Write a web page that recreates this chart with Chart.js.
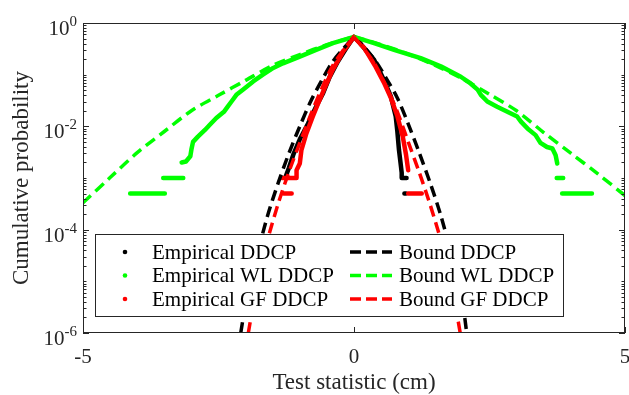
<!DOCTYPE html>
<html>
<head>
<meta charset="utf-8">
<script src="https://cdn.jsdelivr.net/npm/chart.js@4.4.1/dist/chart.umd.min.js"></script>
<style>
  html, body { margin: 0; padding: 0; background: #fff; }
  canvas { display: block; }
</style>
</head>
<body>
<canvas id="cdfChart" width="629" height="395"></canvas>
<script>
// Axis ticks
const xTicks = [-5, 0, 5];
const yTicks = [1e-6, 1e-4, 1e-2, 1];
const yTickExponents = ['-6', '-4', '-2', '0'];

// Series names and colours (DDCP, WL DDCP, GF DDCP)
const empiricalNames = ['Empirical DDCP', 'Empirical WL DDCP', 'Empirical GF DDCP'];
const boundNames = ['Bound DDCP', 'Bound WL DDCP', 'Bound GF DDCP'];
const seriesColors = ['#000000', '#00ff00', '#ff0000'];

// Bound DDCP
const boundDdcpLeftX = [-2.09, -2.0, -1.8, -1.6, -1.4, -1.2, -1.0, -0.8, -0.6, -0.4, -0.2, 0];
const boundDdcpLeftP = [1e-6, 3.55e-6, 2.82e-5, 1.78e-4, 7.94e-4, 3.02e-3, 1.0e-2, 3.02e-2, 7.59e-2, 0.174, 0.316, 0.54];
const boundDdcpRightX = [0, 0.2, 0.4, 0.6, 0.8, 1.0, 1.2, 1.4, 1.6, 1.8, 2.0, 2.08];
const boundDdcpRightP = [0.54, 0.331, 0.182, 8.32e-2, 3.55e-2, 1.12e-2, 3.16e-3, 8.32e-4, 1.91e-4, 3.16e-5, 3.98e-6, 1e-6];

// Bound WL DDCP
const boundWlLeftX = [-5, -4.5, -4, -3.5, -3, -2.5, -2, -1.5, -1, -0.5, 0];
const boundWlLeftP = [3.31e-4, 1.02e-3, 3.09e-3, 7.94e-3, 2.0e-2, 3.98e-2, 7.76e-2, 0.151, 0.245, 0.380, 0.54];
const boundWlRightX = [0, 0.5, 1, 1.5, 2, 2.5, 3, 3.5, 4, 4.5, 5];
const boundWlRightP = [0.54, 0.380, 0.251, 0.151, 8.32e-2, 4.17e-2, 2.0e-2, 7.59e-3, 3.02e-3, 1.20e-3, 4.57e-4];

// Bound GF DDCP
const boundGfLeftX = [-1.95, -1.8, -1.6, -1.4, -1.2, -1.0, -0.8, -0.6, -0.4, -0.2, 0];
const boundGfLeftP = [1e-6, 7.94e-6, 6.03e-5, 3.16e-4, 1.32e-3, 4.79e-3, 1.66e-2, 5.25e-2, 0.145, 0.295, 0.54];
const boundGfRightX = [0, 0.2, 0.4, 0.6, 0.8, 1.0, 1.2, 1.4, 1.6, 1.8, 1.96];
const boundGfRightP = [0.54, 0.302, 0.151, 5.75e-2, 1.91e-2, 5.01e-3, 1.32e-3, 3.16e-4, 6.31e-5, 8.91e-6, 1e-6];

// Empirical curves (null = gap between steps)
const empDdcpX = [-1.27, -1.20, -1.12, -1.00, -0.85, -0.70, -0.57, -0.45, -0.30, -0.15, 0,
  0.12, 0.37, 0.55, 0.68, 0.77, 0.80, 0.83, 0.86, 0.88, 0.88, 0.97, null, 0.93, 0.96];
const empDdcpP = [1e-3, 1.58e-3, 2.82e-3, 5.62e-3, 1.12e-2, 2.40e-2, 4.37e-2, 8.91e-2, 0.178, 0.316, 0.54,
  0.398, 0.195, 7.94e-2, 3.80e-2, 1.55e-2, 7.94e-3, 3.47e-3, 1.91e-3, 1.26e-3, 1e-3, 1e-3, null, 5e-4, 5e-4];

const empWlX = [-4.13, -3.49, null, -3.52, -3.15, null, -3.18, -3.10, -3.02, -3.00, -2.97, -2.88, -2.75,
  -2.66, -2.54, -2.40, -2.33, -2.26, -2.17, -2.05, -1.86, -1.68, -1.49, -1.31, -1.00, -0.70, -0.39, 0,
  0.37, 0.74, 1.23, 1.60, 1.97, 2.15, 2.28, 2.34, 2.46, 2.64, 2.83, 3.01, 3.08, 3.20, 3.35, 3.44, 3.56,
  3.66, 3.72, 3.75, null, 3.74, 3.86, null, 3.84, 4.39];
const empWlP = [5e-4, 5e-4, null, 1e-3, 1e-3, null, 2e-3, 2.09e-3, 2.63e-3, 3.55e-3, 5.01e-3, 6.31e-3, 8.51e-3,
  1.07e-2, 1.45e-2, 1.91e-2, 2.40e-2, 3.02e-2, 4.07e-2, 5.13e-2, 7.41e-2, 0.1, 0.135, 0.166, 0.224, 0.302, 0.407, 0.54,
  0.407, 0.302, 0.209, 0.145, 9.12e-2, 6.76e-2, 5.13e-2, 4.07e-2, 3.02e-2, 2.40e-2, 1.91e-2, 1.55e-2, 1.23e-2, 9.12e-3, 6.76e-3, 4.79e-3, 3.98e-3,
  3.72e-3, 2.75e-3, 1.91e-3, null, 1e-3, 1e-3, null, 5e-4, 5e-4];

const empGfX = [-1.30, -1.15, null, -1.33, -1.06, -1.06, -1.00, -0.97, -0.88, -0.76, -0.66, -0.55, -0.40, -0.20, 0,
  0.20, 0.40, 0.55, 0.68, 0.80, 0.90, 0.96, 1.00, null, 1.00, 1.25];
const empGfP = [5e-4, 5e-4, null, 1e-3, 1e-3, 1.41e-3, 1.91e-3, 3.47e-3, 7.24e-3, 1.55e-2, 2.82e-2, 5.25e-2, 0.120, 0.282, 0.54,
  0.316, 0.141, 7.08e-2, 3.55e-2, 1.58e-2, 6.31e-3, 2.82e-3, 1.41e-3, null, 5e-4, 5e-4];

const axisColor = '#262626';
const serif = '"Liberation Serif", "Times New Roman", serif';

function toPoints(xs, ps) {
  return xs.map((x, i) => ({ x: x === null ? NaN : x, y: ps[i] }));
}

function empirical(xs, ps, color, order) {
  return {
    data: toPoints(xs, ps), showLine: true, borderColor: color, borderWidth: 4.5,
    borderCapStyle: 'round', borderJoinStyle: 'round', pointRadius: 0, spanGaps: false,
    clip: 0, order: order
  };
}

function bound(xs, ps, color, order) {
  return {
    data: toPoints(xs, ps), showLine: true, borderColor: color, borderWidth: 3.5,
    borderDash: [11, 6], pointRadius: 0, tension: 0.3, clip: 0, order: order
  };
}

// frame, inward ticks, 10^n labels and the two-column legend
const boxPlugin = {
  id: 'boxAndLegend',
  afterDatasetsDraw(chart) {
    const { ctx, chartArea: a, scales: { x, y } } = chart;
    ctx.save();
    ctx.strokeStyle = axisColor;
    ctx.lineWidth = 1;
    ctx.setLineDash([]);
    ctx.strokeRect(Math.round(a.left) + 0.5, Math.round(a.top) + 0.5,
      Math.round(a.right - a.left) - 1, Math.round(a.bottom - a.top) - 1);

    ctx.beginPath();
    xTicks.forEach(v => {
      const px = Math.round(x.getPixelForValue(v)) + 0.5;
      ctx.moveTo(px, a.bottom); ctx.lineTo(px, a.bottom - 6);
      ctx.moveTo(px, a.top); ctx.lineTo(px, a.top + 6);
    });
    for (let e = -6; e <= 0; e++) {
      for (let m = 1; m < 10; m++) {
        if (e === 0 && m > 1) break;
        const py = Math.round(y.getPixelForValue(m * Math.pow(10, e))) + 0.5;
        const len = (m === 1 && e % 2 === 0) ? 6 : 3.5;
        ctx.moveTo(a.left, py); ctx.lineTo(a.left + len, py);
        ctx.moveTo(a.right, py); ctx.lineTo(a.right - len, py);
      }
    }
    ctx.stroke();

    // y tick labels with raised exponents
    ctx.fillStyle = axisColor;
    ctx.textBaseline = 'alphabetic';
    ctx.textAlign = 'left';
    yTicks.forEach((v, i) => {
      const py = y.getPixelForValue(v);
      ctx.font = '15px ' + serif;
      const expW = ctx.measureText(yTickExponents[i]).width;
      ctx.font = '21px ' + serif;
      const baseW = ctx.measureText('10').width;
      const x0 = a.left - 6 - expW - baseW;
      ctx.fillText('10', x0, py + 12);
      ctx.font = '15px ' + serif;
      ctx.fillText(yTickExponents[i], x0 + baseW, py + 3);
    });

    // legend
    const lx = 95, ly = 234, lw = 468, lh = 82;
    const rows = [252, 275.5, 299];
    ctx.fillStyle = '#ffffff';
    ctx.fillRect(lx, ly, lw, lh);
    ctx.strokeStyle = axisColor;
    ctx.lineWidth = 1;
    ctx.strokeRect(lx + 0.5, ly + 0.5, lw, lh);
    ctx.font = '21px ' + serif;
    ctx.textBaseline = 'middle';
    ctx.textAlign = 'left';
    rows.forEach((ry, i) => {
      ctx.fillStyle = seriesColors[i];
      ctx.beginPath();
      ctx.arc(125, ry, 2.3, 0, Math.PI * 2);
      ctx.fill();
      ctx.strokeStyle = seriesColors[i];
      ctx.lineWidth = 3.5;
      ctx.setLineDash([11, 5]);
      ctx.beginPath();
      ctx.moveTo(350, ry); ctx.lineTo(392, ry);
      ctx.stroke();
      ctx.setLineDash([]);
      ctx.fillStyle = '#000000';
      ctx.fillText(empiricalNames[i], 152, ry + 1);
      ctx.fillText(boundNames[i], 399, ry + 1);
    });
    ctx.restore();
  }
};

new Chart(document.getElementById('cdfChart'), {
  type: 'scatter',
  data: {
    datasets: [
      bound(boundGfLeftX, boundGfLeftP, seriesColors[2], 1),
      bound(boundGfRightX, boundGfRightP, seriesColors[2], 1),
      bound(boundWlLeftX, boundWlLeftP, seriesColors[1], 2),
      bound(boundWlRightX, boundWlRightP, seriesColors[1], 2),
      bound(boundDdcpLeftX, boundDdcpLeftP, seriesColors[0], 3),
      bound(boundDdcpRightX, boundDdcpRightP, seriesColors[0], 3),
      empirical(empGfX, empGfP, seriesColors[2], 4),
      empirical(empWlX, empWlP, seriesColors[1], 5),
      empirical(empDdcpX, empDdcpP, seriesColors[0], 6)
    ]
  },
  options: {
    responsive: false,
    animation: false,
    devicePixelRatio: 1,
    layout: { padding: { top: 23, right: 4, left: 0, bottom: 0 } },
    plugins: { legend: { display: false }, tooltip: { enabled: false } },
    scales: {
      x: {
        type: 'linear', min: -5, max: 5,
        afterBuildTicks: s => { s.ticks = xTicks.map(v => ({ value: v })); },
        afterFit: s => { s.height = 62; s.paddingLeft = 0; s.paddingRight = 0; },
        grid: { display: false }, border: { display: false },
        ticks: { font: { family: serif, size: 21 }, color: axisColor, padding: 4, maxRotation: 0, autoSkip: false },
        title: { display: true, text: 'Test statistic (cm)', color: axisColor,
          font: { family: serif, size: 23, lineHeight: 1 }, padding: { top: 0, bottom: 1 } }
      },
      y: {
        type: 'logarithmic', min: 1e-6, max: 1,
        afterBuildTicks: s => { s.ticks = yTicks.map(v => ({ value: v })); },
        afterFit: s => { s.width = 83; },
        grid: { display: false }, border: { display: false },
        ticks: { display: false },
        title: { display: true, text: 'Cumulative probability', color: axisColor,
          font: { family: serif, size: 23 }, padding: { top: 8, bottom: 0 } }
      }
    }
  },
  plugins: [boxPlugin]
});
</script>
</body>
</html>
